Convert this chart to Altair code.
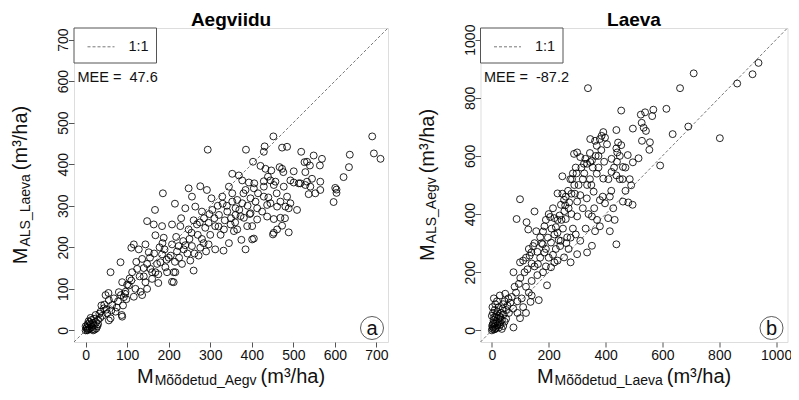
import altair as alt
import pandas as pd

# ---------------- data ----------------
panel_titles = ["Aegviidu", "Laeva"]
mee_values = ["47.6", "-87.2"]
panel_letters = ["a", "b"]
x_subscripts = ["Mõõdetud_Aegv", "Mõõdetud_Laeva"]
y_subscripts = ["ALS_Laeva", "ALS_Aegv"]
a_limit, b_limit = 700, 1000
a_ticks = [0, 100, 200, 300, 400, 500, 600, 700]
b_ticks = [0, 200, 400, 600, 800, 1000]

# panel a: (measured, ALS) m3/ha
a_points = [
    (0, 0), (2, 5), (5, 2), (8, 10), (10, 5), (12, 15), (15, 8), (18, 18), (20, 12), (22, 2),
    (5, 15), (10, 20), (14, 25), (8, 3), (3, 8), (16, 3), (25, 20), (28, 10), (20, 28), (12, 30),
    (24, 37), (30, 25), (35, 30), (4, 0), (0, 10), (18, 0), (26, 5), (7, 22), (30, 15), (33, 40),
    (36, 45), (44, 53), (48, 85), (52, 41), (56, 73), (56, 24), (60, 29), (60, 140), (64, 61), (68, 77),
    (72, 45), (40, 35), (45, 62), (50, 50), (55, 90), (62, 48), (38, 60), (75, 55), (78, 70), (80, 92),
    (84, 164), (87, 37), (88, 33), (88, 116), (90, 60), (92, 80), (95, 88), (96, 93), (98, 75), (100, 110),
    (85, 85), (104, 108), (110, 199), (110, 120), (116, 81), (116, 207), (120, 100), (124, 148), (128, 195), (132, 93),
    (136, 85), (136, 172), (140, 130), (144, 116), (144, 207), (148, 160), (148, 100), (148, 263), (152, 188), (156, 148),
    (160, 124), (160, 140), (164, 255), (167, 290), (168, 140), (168, 229), (175, 114), (180, 164), (184, 183), (184, 251),
    (186, 330), (188, 223), (192, 152), (195, 170), (200, 175), (196, 140), (172, 160), (178, 200), (190, 195), (155, 175),
    (130, 130), (122, 165), (112, 140), (106, 125), (140, 150), (165, 185), (185, 210), (175, 135),
    (208, 255), (208, 117), (208, 207), (212, 140), (215, 305), (216, 140), (220, 190), (224, 203), (228, 251), (232, 160),
    (236, 195), (240, 294), (240, 205), (248, 243), (248, 342), (250, 220), (252, 168), (256, 203), (256, 322), (260, 144),
    (262, 185), (264, 298), (268, 255), (270, 230), (276, 199), (276, 347), (280, 286), (284, 210), (288, 247), (292, 338),
    (294, 435), (296, 259), (296, 207), (300, 230), (205, 180), (215, 165), (225, 175), (235, 215), (245, 185), (255, 235),
    (260, 265), (272, 180), (280, 220), (285, 270), (290, 190), (298, 280), (218, 225), (230, 270), (275, 260), (212, 116),
    (303, 318), (305, 290), (312, 195), (312, 251), (321, 278), (329, 322), (332, 192), (333, 243), (341, 286), (345, 346),
    (349, 255), (353, 310), (353, 330), (353, 377), (357, 239), (361, 278), (361, 294), (365, 243), (365, 314), (369, 373),
    (373, 275), (375, 218), (377, 306), (377, 361), (381, 271), (385, 195), (385, 338), (389, 251), (393, 356), (397, 282),
    (397, 318), (401, 251), (401, 219), (310, 270), (318, 300), (325, 230), (335, 265), (340, 300), (345, 210), (350, 270),
    (360, 260), (370, 290), (380, 330), (390, 300), (395, 280), (386, 435), (320, 250), (330, 305),
    (403, 406), (405, 221), (405, 342), (406, 354), (409, 310), (413, 294), (413, 267), (421, 396), (425, 286), (429, 322),
    (429, 346), (429, 359), (429, 430), (431, 443), (433, 389), (437, 274), (437, 302), (439, 370), (445, 306), (445, 361),
    (447, 385), (451, 231), (452, 467), (453, 268), (453, 350), (457, 358), (461, 243), (461, 298), (467, 393), (469, 310),
    (469, 271), (473, 252), (473, 389), (473, 440), (476, 381), (477, 346), (481, 298), (485, 322), (485, 442), (489, 294),
    (489, 236), (493, 306), (493, 361), (501, 356), (501, 383), (415, 330), (440, 320), (460, 330), (480, 270), (453, 235),
    (509, 290), (513, 354), (517, 354), (519, 430), (527, 405), (529, 350), (529, 381), (533, 358), (533, 406), (537, 328),
    (540, 397), (541, 346), (545, 365), (549, 421), (553, 330), (564, 397), (565, 338), (565, 358), (569, 413), (597, 309),
    (601, 343), (604, 339), (604, 331), (621, 369), (634, 393), (636, 423), (690, 467), (694, 426), (710, 413),
]

# panel b: (measured, ALS) m3/ha
b_points = [
    (0, 0), (2, 5), (5, 10), (8, 3), (10, 15), (3, 20), (12, 25), (15, 8), (18, 30), (20, 18),
    (6, 35), (22, 40), (25, 10), (28, 28), (30, 45), (0, 50), (4, 60), (10, 70), (14, 45), (16, 55),
    (20, 65), (24, 80), (26, 50), (32, 60), (35, 35), (38, 75), (40, 90), (42, 55), (45, 100), (47, 126),
    (50, 70), (55, 85), (58, 110), (7, 110), (12, 90), (2, 80), (30, 20), (35, 5), (40, 15), (45, 30),
    (50, 40), (60, 60), (65, 95), (70, 115), (8, 45), (18, 100), (28, 120), (5, 25), (1, 15), (12, 5),
    (76, 10), (76, 200), (87, 383), (99, 42), (99, 234), (99, 451), (105, 110), (110, 240), (80, 150), (85, 130),
    (90, 100), (95, 160), (100, 180), (115, 200), (120, 150), (125, 210), (128, 347), (122, 372), (133, 257), (136, 98),
    (139, 268), (145, 290), (150, 409), (156, 341), (162, 228), (165, 104), (170, 250), (175, 300), (179, 296), (185, 358),
    (185, 268), (190, 220), (194, 155), (197, 319), (160, 190), (140, 170), (130, 130), (150, 220), (180, 200), (110, 80),
    (120, 60), (140, 120), (90, 60), (75, 75), (160, 270), (170, 320), (180, 340), (190, 280), (200, 250), (210, 350),
    (150, 300), (140, 230), (130, 280), (120, 250), (200, 400), (190, 380),
    (208, 302), (208, 217), (215, 260), (220, 386), (220, 234), (220, 330), (225, 280), (231, 380), (231, 471), (231, 240),
    (231, 336), (235, 310), (240, 290), (242, 308), (243, 432), (248, 530), (250, 350), (254, 449), (254, 251), (260, 383),
    (262, 300), (265, 320), (270, 280), (277, 234), (277, 319), (280, 400), (285, 350), (289, 607), (276, 520), (285, 540),
    (295, 560), (300, 612), (300, 443), (300, 392), (300, 262), (290, 500), (270, 420), (260, 460), (245, 380), (255, 410),
    (280, 470), (295, 330), (205, 390), (215, 420), (225, 355), (238, 395), (248, 470), (258, 430), (268, 480), (272, 440),
    (282, 520), (292, 470), (298, 540),
    (311, 596), (311, 465), (311, 308), (320, 520), (324, 573), (329, 590), (334, 454), (335, 573), (335, 268), (338, 833),
    (346, 658), (346, 579), (352, 584), (352, 392), (352, 291), (358, 477), (363, 652), (363, 341), (369, 539), (369, 635),
    (380, 658), (380, 448), (380, 358), (386, 669), (392, 682), (392, 522), (398, 663), (398, 437), (340, 400), (350, 500),
    (360, 420), (370, 380), (375, 600), (390, 460), (330, 350), (320, 420), (345, 520), (305, 500), (315, 560), (325, 540),
    (335, 500), (345, 610), (355, 560), (365, 600), (375, 560), (385, 620), (395, 580),
    (409, 386), (415, 460), (415, 341), (421, 590), (421, 545), (427, 420), (432, 380), (438, 296), (438, 626), (438, 689),
    (438, 533), (441, 612), (444, 646), (455, 637), (455, 756), (461, 443), (461, 562), (478, 603), (490, 499), (495, 432),
    (496, 578), (496, 694), (470, 480), (450, 520), (480, 440), (405, 640), (410, 520), (420, 480), (430, 560), (440, 580),
    (450, 600), (460, 520), (470, 560), (485, 520),
    (516, 592), (524, 742), (527, 714), (528, 652), (534, 697), (539, 750), (542, 686), (554, 621), (556, 647), (564, 737),
    (568, 759), (592, 567), (614, 762), (636, 675), (662, 833), (691, 701), (710, 884),
    (802, 661), (863, 849), (917, 881), (938, 920),
]

# ---------------- styling ----------------
FONT = "Liberation Sans"
GRAY = "#555555"
TXT = "#111111"
H = 314
ARIAL = {"M": .833, "õ": .556, "o": .556, "d": .556, "e": .556, "t": .278, "u": .556, "_": .556,
         "A": .667, "g": .556, "v": .5, "L": .556, "a": .556, "S": .667}


def text_width(s, size):
    return sum(ARIAL.get(c, .556) for c in s) * size


def one(v):
    return pd.DataFrame({"t": [v]})


def panel(points, lim, ticks, W, title, xsub, ysub, mee, letter):
    ext = lim * 0.04
    dom = [-ext, lim + ext]
    df = pd.DataFrame(points, columns=["x", "y"])
    xscale = alt.Scale(domain=dom, nice=False, zero=False)
    yscale = alt.Scale(domain=dom, nice=False, zero=False)
    xaxis = alt.Axis(values=ticks, format="d", title=None, grid=False, domain=False, tickSize=5,
                     tickColor=GRAY, labelFontSize=14, labelFont=FONT, labelColor=TXT, labelPadding=1.5,
                     labelFlush=False, labelOverlap=False)
    yaxis = alt.Axis(values=ticks, format="d", title=None, grid=False, domain=False, tickSize=5.5,
                     tickColor=GRAY, labelFontSize=14, labelFont=FONT, labelColor=TXT, labelAngle=270,
                     labelAlign="center", labelBaseline="alphabetic", labelPadding=1,
                     labelFlush=False, labelOverlap=False)
    pts = alt.Chart(df).mark_point(shape="circle", filled=False, size=48, color="black",
                                   strokeWidth=0.85, opacity=1).encode(
        x=alt.X("x:Q", scale=xscale, axis=xaxis),
        y=alt.Y("y:Q", scale=yscale, axis=yaxis))
    diag = alt.Chart(pd.DataFrame({"x": dom, "y": dom})).mark_line(
        color=GRAY, strokeDash=[3, 2], strokeWidth=0.8).encode(x="x:Q", y="y:Q")

    box = alt.Chart(one(0)).mark_rect(fill="white", stroke=GRAY, strokeWidth=1).encode(
        x=alt.value(0), x2=alt.value(82.5), y=alt.value(0), y2=alt.value(35))
    sample = alt.Chart(one(0)).mark_rule(color=GRAY, strokeDash=[3, 2], strokeWidth=0.8).encode(
        x=alt.value(13.5), x2=alt.value(40.5), y=alt.value(18.8))
    lab11 = alt.Chart(one("1:1")).mark_text(font=FONT, fontSize=14.5, color=TXT, align="left",
                                             baseline="middle").encode(
        text="t:N", x=alt.value(54.5), y=alt.value(18.8))
    meet = alt.Chart(one("MEE =\u00a0\u00a0" + mee)).mark_text(font=FONT, fontSize=14.5, color=TXT,
                                                              align="left", baseline="middle").encode(
        text="t:N", x=alt.value(3.5), y=alt.value(49.5))
    circ = alt.Chart(one(0)).mark_point(shape="circle", filled=False, size=530, color="#333333",
                                        strokeWidth=0.8, opacity=1).encode(
        x=alt.value(W - 16), y=alt.value(H - 14))
    let = alt.Chart(one(letter)).mark_text(font=FONT, fontSize=20, color=TXT, align="center",
                                           baseline="middle").encode(
        text="t:N", x=alt.value(W - 16), y=alt.value(H - 13))
    ttl = alt.Chart(one(title)).mark_text(font=FONT, fontSize=19, fontWeight="bold", color="black",
                                          align="center", baseline="alphabetic").encode(
        text="t:N", x=alt.value(W / 2), y=alt.value(-2.5))

    # x axis title: M + subscript + (m³/ha)
    big, small = 20, 14
    tail = "(m³/ha)"
    m_w = text_width("M", big)
    xsub_w = text_width(xsub, small)
    tail_w = 3.5 * big * 0.92
    total = m_w + 1 + xsub_w + 4 + tail_w
    x0 = W / 2 - total / 2
    xb = H + 41.3
    xt1 = alt.Chart(one("M")).mark_text(font=FONT, fontSize=big, color=TXT, align="left",
                                        baseline="alphabetic").encode(
        text="t:N", x=alt.value(x0), y=alt.value(xb))
    xt2 = alt.Chart(one(xsub)).mark_text(font=FONT, fontSize=small, color=TXT, align="left",
                                         baseline="alphabetic").encode(
        text="t:N", x=alt.value(x0 + m_w + 1), y=alt.value(xb + 1.5))
    xt3 = alt.Chart(one(tail)).mark_text(font=FONT, fontSize=big, color=TXT, align="left",
                                         baseline="alphabetic").encode(
        text="t:N", x=alt.value(x0 + m_w + 1 + xsub_w + 4), y=alt.value(xb))

    # y axis title (rotated)
    ysub_w = text_width(ysub, small)
    ytotal = m_w + 1 + ysub_w + 4 + tail_w
    y0 = H / 2 + ytotal / 2
    yb = -47
    yt1 = alt.Chart(one("M")).mark_text(font=FONT, fontSize=big, color=TXT, align="left",
                                        baseline="alphabetic", angle=270).encode(
        text="t:N", x=alt.value(yb), y=alt.value(y0))
    yt2 = alt.Chart(one(ysub)).mark_text(font=FONT, fontSize=small, color=TXT, align="left",
                                         baseline="alphabetic", angle=270).encode(
        text="t:N", x=alt.value(yb + 2.5), y=alt.value(y0 - m_w - 1))
    yt3 = alt.Chart(one(tail)).mark_text(font=FONT, fontSize=big, color=TXT, align="left",
                                         baseline="alphabetic", angle=270).encode(
        text="t:N", x=alt.value(yb), y=alt.value(y0 - m_w - 1 - ysub_w - 4))

    return alt.layer(diag, pts, box, sample, lab11, meet, circ, let, ttl,
                     xt1, xt2, xt3, yt1, yt2, yt3).properties(width=W, height=H)


pa = panel(a_points, a_limit, a_ticks, 314, panel_titles[0], x_subscripts[0], y_subscripts[0],
           mee_values[0], panel_letters[0])
pb = panel(b_points, b_limit, b_ticks, 307, panel_titles[1], x_subscripts[1], y_subscripts[1],
           mee_values[1], panel_letters[1])

chart = alt.hconcat(pa, pb, spacing=25.5).properties(
    autosize=alt.AutoSizeParams(type="none"),
    padding={"left": 66, "top": 20, "right": 717, "bottom": 360}
).configure_view(stroke=GRAY, strokeWidth=1).configure(background="white")

chart.save("out.html", embed_options={"renderer": "svg", "actions": False})
